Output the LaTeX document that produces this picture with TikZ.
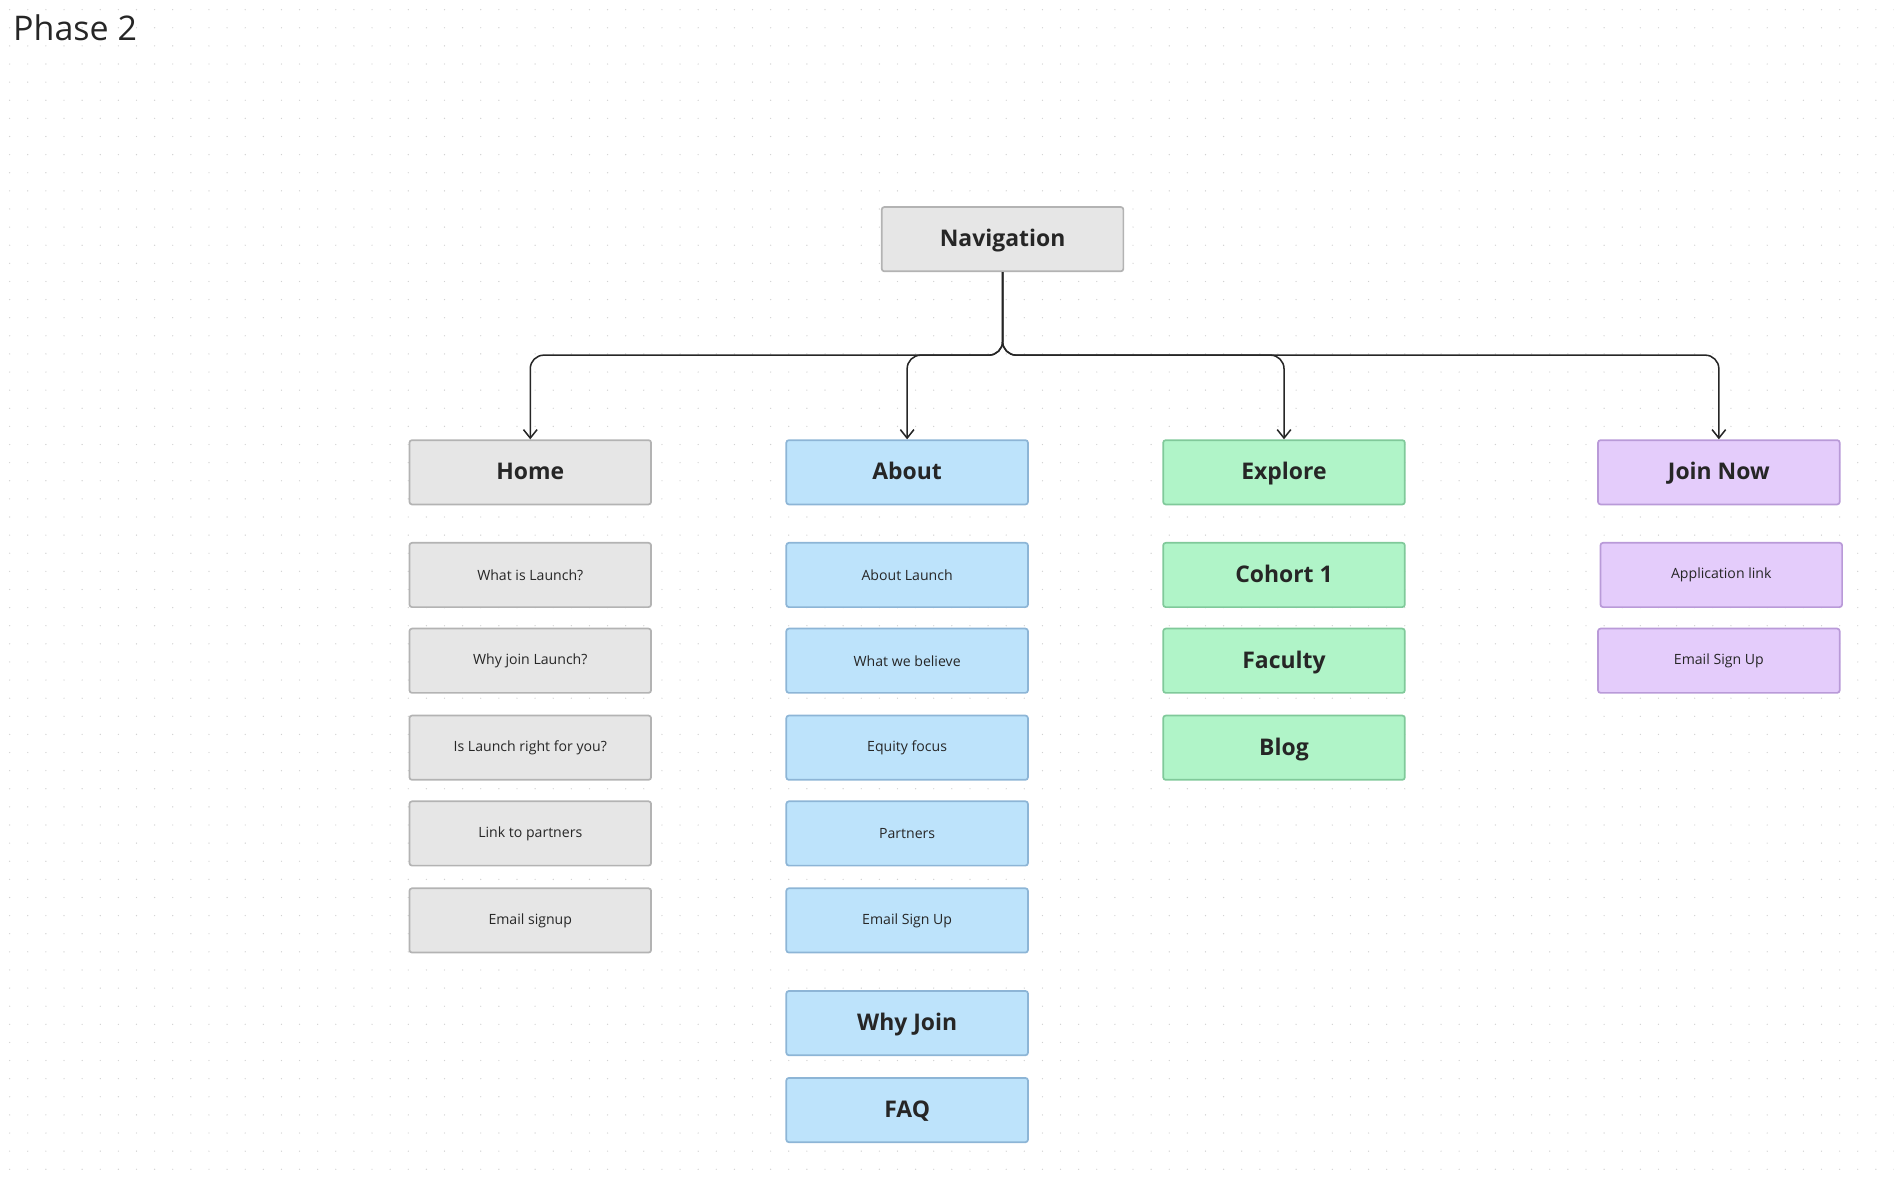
\documentclass[tikz,border=0pt]{standalone}
\usepackage{fontspec}
\setmainfont{Open Sans}
\usetikzlibrary{arrows.meta}
\definecolor{grayfill}{HTML}{E6E6E6}\definecolor{grayline}{HTML}{B3B3B3}
\definecolor{bluefill}{HTML}{BDE3FB}\definecolor{blueline}{HTML}{8DB5D6}
\definecolor{greenfill}{HTML}{B0F4C8}\definecolor{greenline}{HTML}{80C99A}
\definecolor{purplefill}{HTML}{E4CCFB}\definecolor{purpleline}{HTML}{B99AD8}
\begin{document}
\begin{tikzpicture}[x=0.025cm,y=-0.025cm,>={Straight Barb[length=5pt,width=8pt]},
	box/.style={rectangle,rounded corners=1.5pt,line width=1pt,minimum width=5cm,minimum height=1.33cm,inner sep=0pt},
	head/.style={box,font=\fontsize{13.5}{15}\selectfont\bfseries,text=black!85,text depth=0.25ex},
	item/.style={box,font=\fontsize{8.3}{9}\selectfont,text=black!85},
	grey/.style={fill=grayfill,draw=grayline},
	blue/.style={fill=bluefill,draw=blueline},
	green/.style={fill=greenfill,draw=greenline},
	purple/.style={fill=purplefill,draw=purpleline},
	link/.style={->,line width=0.9pt,black!85,rounded corners=8pt}]

	\useasboundingbox (0,0) rectangle (1568,982);
	% dotted canvas
	\foreach \x in {8,23,...,1568}
		\foreach \y in {8,23,...,982}
			\fill[black!18] (\x,\y) circle (0.4pt);

	\node[anchor=west,font=\fontsize{20}{22}\selectfont,text=black!85] (title) at (6,23) {Phase 2};

	\node[head,grey] (nav) at (830,198) {Navigation};

	\node[head,grey] (home) at (439,391) {Home};
	\node[head,blue] (about) at (751,391) {About};
	\node[head,green] (explore) at (1063,391) {Explore};
	\node[head,purple] (join) at (1423,391) {Join Now};

	% home column
	\node[item,grey] (home1) at (439,476) {What is Launch?};
	\node[item,grey] (home2) at (439,547) {Why join Launch?};
	\node[item,grey] (home3) at (439,619) {Is Launch right for you?};
	\node[item,grey] (home4) at (439,690) {Link to partners};
	\node[item,grey] (home5) at (439,762) {Email signup};

	% about column
	\node[item,blue] (about1) at (751,476) {About Launch};
	\node[item,blue] (about2) at (751,547) {What we believe};
	\node[item,blue] (about3) at (751,619) {Equity focus};
	\node[item,blue] (about4) at (751,690) {Partners};
	\node[item,blue] (about5) at (751,762) {Email Sign Up};
	\node[head,blue] (whyjoin) at (751,847) {Why Join};
	\node[head,blue] (faq) at (751,919) {FAQ};

	% explore column
	\node[head,green] (cohort) at (1063,476) {Cohort 1};
	\node[head,green] (faculty) at (1063,547) {Faculty};
	\node[head,green] (blog) at (1063,619) {Blog};

	% join column
	\node[item,purple] (join1) at (1425,476) {Application link};
	\node[item,purple] (join2) at (1423,547) {Email Sign Up};

	\draw[link] (nav.south) |- (439,294) -- (home.north);
	\draw[link] (nav.south) |- (751,294) -- (about.north);
	\draw[link] (nav.south) |- (1063,294) -- (explore.north);
	\draw[link] (nav.south) |- (1423,294) -- (join.north);
\end{tikzpicture}
\end{document}
